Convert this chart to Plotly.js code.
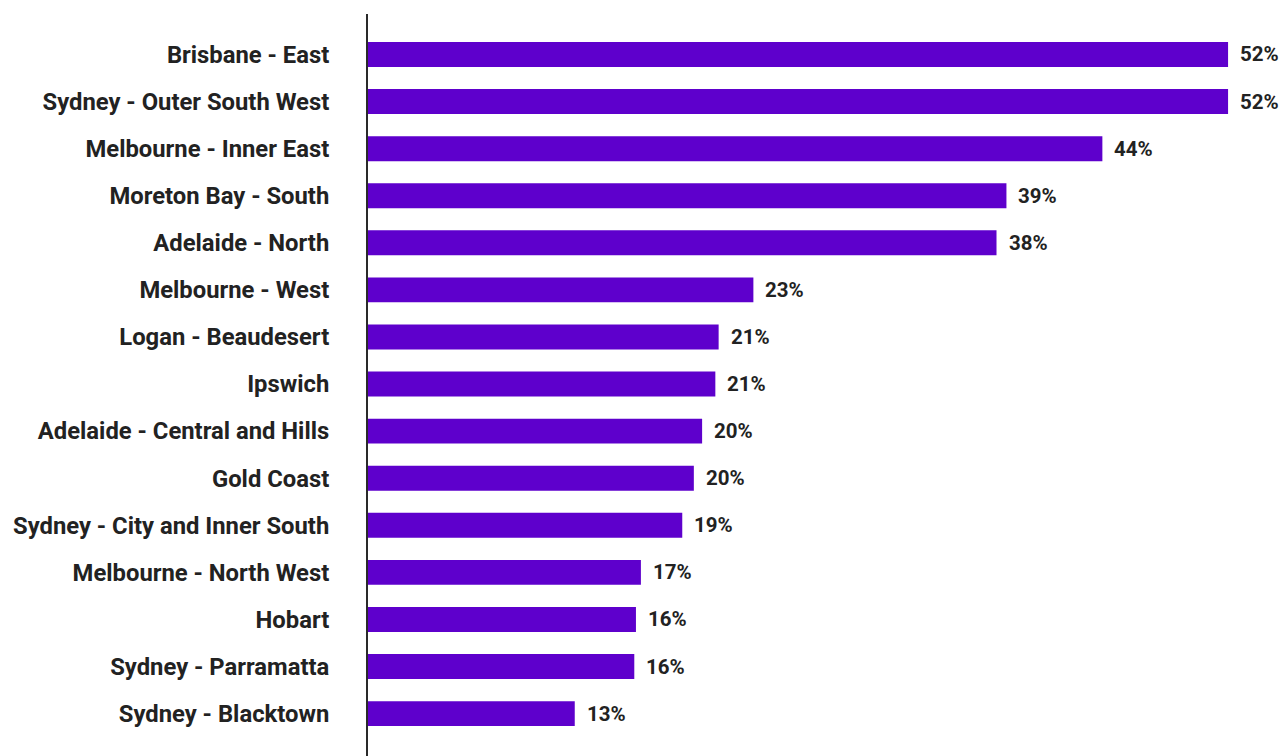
<!DOCTYPE html>
<html>
<head>
<meta charset="utf-8">
<script src="https://cdn.plot.ly/plotly-3.0.1.min.js"></script>
<style>html,body{margin:0;padding:0;background:#fff;}#chart{width:1281px;height:756px;}</style>
</head>
<body>
<div id="chart"></div>
<script>
const regions = ["Brisbane - East","Sydney - Outer South West","Melbourne - Inner East","Moreton Bay - South","Adelaide - North","Melbourne - West","Logan - Beaudesert","Ipswich","Adelaide - Central and Hills","Gold Coast","Sydney - City and Inner South","Melbourne - North West","Hobart","Sydney - Parramatta","Sydney - Blacktown"];
const values = [52.0, 52.0, 44.4, 38.6, 38.0, 23.3, 21.2, 21.0, 20.2, 19.7, 19.0, 16.5, 16.2, 16.1, 12.5];
const labels = ["52%","52%","44%","39%","38%","23%","21%","21%","20%","20%","19%","17%","16%","16%","13%"];

const trace = {
  type: 'bar', orientation: 'h',
  x: values, y: regions,
  marker: {color: '#5e00cc'},
  width: 0.53,
  hoverinfo: 'skip'
};
const annotations = regions.map((r, i) => ({
  x: values[i], y: r, xref: 'x', yref: 'y',
  text: labels[i], showarrow: false, xanchor: 'left', xshift: 10,
  font: {family: 'Roboto', size: 20.5, color: '#222', weight: 700}
}));
const layout = {
  width: 1281, height: 756,
  margin: {l: 368, r: 0, t: 14, b: 0},
  paper_bgcolor: '#fff', plot_bgcolor: '#fff',
  showlegend: false,
  bargap: 0.47,
  xaxis: {range: [0, 55.2], showgrid: false, zeroline: false, showticklabels: false, showline: false},
  yaxis: {
    type: 'category', categoryorder: 'array', categoryarray: regions,
    range: [14.9, -0.86],
    showline: true, linecolor: '#2a2a2a', linewidth: 2, showgrid: false, ticks: '',
    ticklabelstandoff: 32,
    tickfont: {family: 'Roboto', size: 23.8, color: '#222', weight: 700}
  },
  annotations: annotations,
  font: {family: 'Roboto'}
};
Plotly.newPlot('chart', [trace], layout, {displayModeBar: false, staticPlot: true});
</script>
</body>
</html>
